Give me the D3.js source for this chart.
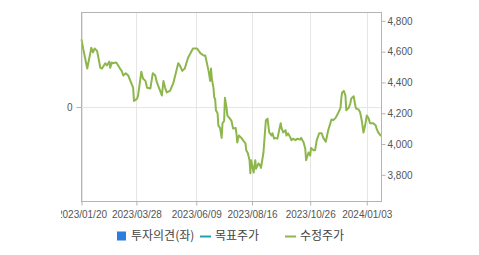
<!DOCTYPE html>
<html>
<head>
<meta charset="utf-8">
<script src="https://cdn.jsdelivr.net/npm/d3@7"></script>
<style>
  html, body { margin: 0; padding: 0; background: #fff; }
  #chart { width: 479px; height: 255px; }
  text { font-family: "Noto Sans CJK KR", "DejaVu Sans", sans-serif; }
</style>
</head>
<body>
<div id="chart"></div>
<script>
// 수정주가 (adjusted price)
const priceDates = [
  "2023-01-20","2023-01-22","2023-01-27","2023-02-01","2023-02-03","2023-02-05","2023-02-08","2023-02-12",
  "2023-02-14","2023-02-18","2023-02-20","2023-02-23","2023-02-24","2023-02-26","2023-02-27","2023-03-03",
  "2023-03-04","2023-03-08","2023-03-10","2023-03-12","2023-03-15","2023-03-18","2023-03-23","2023-03-24",
  "2023-03-25","2023-03-29","2023-03-30","2023-04-03","2023-04-05","2023-04-08","2023-04-10","2023-04-14",
  "2023-04-17","2023-04-20","2023-04-22","2023-04-27","2023-04-28","2023-04-30","2023-05-02","2023-05-04",
  "2023-05-08","2023-05-12","2023-05-18","2023-05-20","2023-05-23","2023-05-26","2023-05-30","2023-06-05",
  "2023-06-10","2023-06-14","2023-06-18","2023-06-20","2023-06-24","2023-06-26","2023-06-27","2023-06-28",
  "2023-06-30","2023-07-01","2023-07-02","2023-07-03","2023-07-05","2023-07-06","2023-07-08","2023-07-10",
  "2023-07-11","2023-07-13","2023-07-14","2023-07-16","2023-07-17","2023-07-20","2023-07-22","2023-07-24",
  "2023-07-27","2023-07-28","2023-07-29","2023-07-31","2023-08-03","2023-08-05","2023-08-08","2023-08-09",
  "2023-08-11","2023-08-13","2023-08-14","2023-08-15","2023-08-18","2023-08-20","2023-08-21","2023-08-24",
  "2023-08-26","2023-08-27","2023-08-30","2023-09-01","2023-09-02","2023-09-04","2023-09-06","2023-09-09",
  "2023-09-10","2023-09-12","2023-09-13","2023-09-16","2023-09-20","2023-09-21","2023-09-23","2023-09-26",
  "2023-09-27","2023-09-29","2023-10-02","2023-10-03","2023-10-05","2023-10-08","2023-10-10","2023-10-14",
  "2023-10-15","2023-10-18","2023-10-20","2023-10-21","2023-10-24","2023-10-26","2023-10-27","2023-10-30",
  "2023-11-01","2023-11-03","2023-11-06","2023-11-09","2023-11-11","2023-11-14","2023-11-17","2023-11-21",
  "2023-11-23","2023-11-26","2023-11-29","2023-12-02","2023-12-03","2023-12-04","2023-12-06","2023-12-08",
  "2023-12-09","2023-12-12","2023-12-14","2023-12-15","2023-12-18","2023-12-20","2023-12-21","2023-12-24",
  "2023-12-26","2023-12-28","2023-12-30","2024-01-01","2024-01-03","2024-01-05","2024-01-07","2024-01-11",
  "2024-01-14","2024-01-15","2024-01-17","2024-01-20","2024-01-21"
];
const priceValues = [
  4680,4620,4490,4625,4595,4620,4605,4495,
  4490,4525,4510,4535,4495,4530,4525,4530,
  4525,4490,4475,4445,4460,4445,4380,4365,
  4280,4295,4315,4470,4425,4410,4365,4360,
  4460,4445,4400,4330,4315,4410,4365,4335,
  4345,4395,4525,4510,4475,4490,4560,4620,
  4620,4590,4575,4575,4475,4410,4490,4425,
  4365,4300,4295,4220,4200,4120,4105,4040,
  4135,4150,4300,4235,4185,4165,4150,4100,
  4105,4070,4010,4055,4040,4025,4005,3960,
  3940,3895,3810,3895,3815,3895,3840,3875,
  3860,3845,3945,4090,4155,4165,4075,4055,
  4070,4035,4040,4035,4135,4105,4075,4090,
  4055,4070,4040,4025,4035,4025,4035,4030,
  4040,4010,3970,3895,3945,3925,3975,3960,
  3960,4025,4070,4070,4040,4015,4090,4160,
  4155,4170,4200,4235,4300,4335,4345,4315,
  4220,4235,4265,4295,4310,4250,4230,4225,
  4205,4150,4075,4120,4185,4170,4135,4135,
  4120,4100,4075,4055,4055
];

const xTickDates = ["2023-01-20","2023-03-28","2023-06-09","2023-08-16","2023-10-26","2024-01-03"];
const rightTicks = [3800, 4000, 4200, 4400, 4600, 4800];
const leftTicks = [0];
const legendLabels = ["투자의견(좌)", "목표주가", "수정주가"];

const parse = d3.timeParse("%Y-%m-%d");
const fmt = d3.timeFormat("%Y/%m/%d");
const data = priceDates.map((d, i) => ({date: parse(d), value: priceValues[i]}));

const W = 479, H = 255;
const plot = {left: 81.5, right: 381.5, top: 12.5, bottom: 201.5};

const svg = d3.select("#chart").append("svg")
    .attr("width", W).attr("height", H)
    .attr("viewBox", `0 0 ${W} ${H}`);

const x = d3.scaleTime()
    .domain([parse("2023-01-20"), parse("2024-01-21")])
    .range([plot.left, plot.right]);
const yR = d3.scaleLinear().domain([3627, 4854]).range([plot.bottom, plot.top]);
const yL = d3.scaleLinear().domain([-1, 1]).range([plot.bottom, plot.top]);

// Grid lines
svg.append("g").selectAll("line")
    .data(xTickDates.map(parse))
    .join("line")
    .attr("x1", d => Math.round(x(d)) + 0.5).attr("x2", d => Math.round(x(d)) + 0.5)
    .attr("y1", plot.top).attr("y2", plot.bottom)
    .attr("stroke", "#e6e6e6");
svg.append("g").selectAll("line")
    .data(leftTicks)
    .join("line")
    .attr("x1", plot.left).attr("x2", plot.right)
    .attr("y1", d => Math.round(yL(d)) + 0.5).attr("y2", d => Math.round(yL(d)) + 0.5)
    .attr("stroke", "#e6e6e6");

// Price line
const line = d3.line().x(d => x(d.date)).y(d => yR(d.value));
svg.append("path")
    .datum(data)
    .attr("fill", "none")
    .attr("stroke", "#8db74c")
    .attr("stroke-width", 2)
    .attr("stroke-linejoin", "round")
    .attr("d", line);

// Frame
svg.append("rect")
    .attr("x", plot.left).attr("y", plot.top)
    .attr("width", plot.right - plot.left).attr("height", plot.bottom - plot.top)
    .attr("fill", "none").attr("stroke", "#b4b4b4");

// Axes
const axisColor = "#b4b4b4";
const styleAxis = g => {
    g.select(".domain").remove();
    g.selectAll(".tick line").attr("stroke", axisColor);
    g.selectAll(".tick text").attr("fill", "#555").style("font-size", "10px")
        .style("font-family", "\"Liberation Sans\", Arial, sans-serif");
};

// first date label is cut off on the left, as in the original
svg.append("defs").append("clipPath").attr("id", "xclip")
    .append("rect").attr("x", 61).attr("y", 0).attr("width", W - 61).attr("height", H);

svg.append("g")
    .attr("transform", `translate(0,${plot.bottom})`)
    .attr("clip-path", "url(#xclip)")
    .call(d3.axisBottom(x).tickValues(xTickDates.map(parse)).tickFormat(fmt).tickSize(4).tickPadding(4))
    .call(styleAxis)
    .call(g => g.selectAll(".tick text").attr("dy", "0.85em"));

svg.append("g")
    .attr("transform", `translate(${plot.right},0)`)
    .call(d3.axisRight(yR).tickValues(rightTicks).tickFormat(d3.format(",")).tickSize(4).tickPadding(2))
    .call(styleAxis);

svg.append("g")
    .attr("transform", `translate(${plot.left},0)`)
    .call(d3.axisLeft(yL).tickValues(leftTicks).tickFormat(d3.format("d")).tickSize(5).tickPadding(4))
    .call(styleAxis);

// Legend
const legend = svg.append("g").attr("transform", "translate(0,236)")
    .style("font-size", "12px").attr("fill", "#444");
legend.append("rect").attr("x", 117).attr("y", -4.5).attr("width", 9).attr("height", 9).attr("fill", "#2b7de0");
legend.append("text").attr("x", 131).attr("y", 0).attr("dy", "0.35em").text(legendLabels[0]);
legend.append("line").attr("x1", 200).attr("x2", 211).attr("y1", 0.5).attr("y2", 0.5)
    .attr("stroke", "#1fa3b3").attr("stroke-width", 2);
legend.append("text").attr("x", 215).attr("y", 0).attr("dy", "0.35em").text(legendLabels[1]);
legend.append("line").attr("x1", 285).attr("x2", 296).attr("y1", 0.5).attr("y2", 0.5)
    .attr("stroke", "#8db74c").attr("stroke-width", 2);
legend.append("text").attr("x", 300).attr("y", 0).attr("dy", "0.35em").text(legendLabels[2]);
</script>
</body>
</html>
